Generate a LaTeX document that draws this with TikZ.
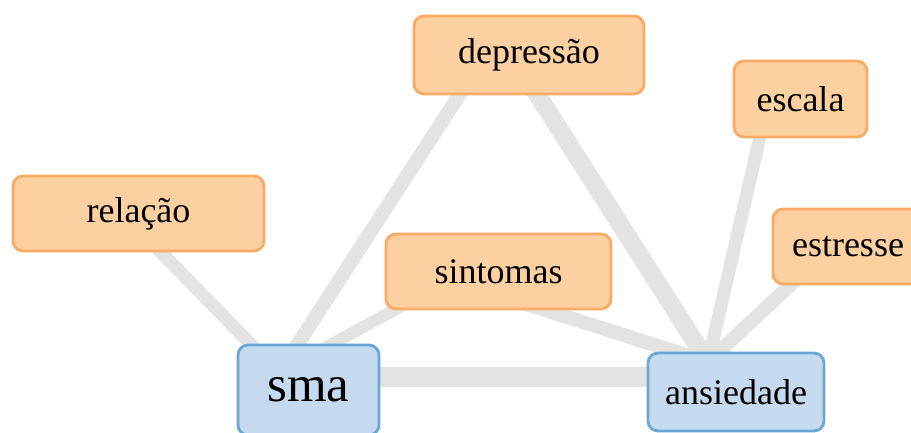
\documentclass[tikz,border=0pt]{standalone}
\usepackage{fontspec}
\setmainfont{Liberation Serif}
\usetikzlibrary{calc}
\pgfdeclarelayer{bg}
\pgfsetlayers{bg,main}
\definecolor{ofill}{RGB}{252,208,160}
\definecolor{odraw}{RGB}{250,170,100}
\definecolor{bfill}{RGB}{197,217,239}
\definecolor{bdraw}{RGB}{105,168,212}
\definecolor{edgegray}{RGB}{227,227,227}
\tikzset{
  obox/.style={draw=odraw, fill=ofill, line width=2.8pt, rounded corners=10pt, inner sep=0pt, font=\fontsize{36}{40}\selectfont},
  bbox/.style={draw=bdraw, fill=bfill, line width=2.8pt, rounded corners=10pt, inner sep=0pt, font=\fontsize{36}{40}\selectfont},
  link/.style={draw=edgegray, line cap=butt},
}
\begin{document}
\begin{tikzpicture}[x=1pt, y=-1pt]
\useasboundingbox (0,0) rectangle (911,433);
\clip (0,0) rectangle (911,433);
\node[obox, minimum width=230pt, minimum height=78pt] (dep) at (529,55) {depressão};
\node[obox, minimum width=133pt, minimum height=76pt] (esc) at (800.5,99) {escala};
\node[obox, minimum width=251pt, minimum height=75pt] (rel) at (138.5,213.5) {relação};
\node[obox, minimum width=150pt, minimum height=75pt] (est) at (848,246.5) {estresse};
\node[obox, minimum width=225pt, minimum height=75pt] (sin) at (498.5,271.5) {sintomas};
\node[bbox, minimum width=141pt, minimum height=90pt, font=\fontsize{51}{56}\selectfont] (sma) at (308.5,390) {sma};
\node[bbox, minimum width=176pt, minimum height=78pt] (ans) at (736,392) {ansiedade};
\begin{pgfonlayer}{bg}
\draw[link, line width=13pt] ($(rel)+(10.5,26.5)$) -- ($(sma)+(-29.5,-17)$);
\draw[link, line width=14pt] ($(dep)+(-60,25)$) -- ($(sma)+(-29.5,-17)$);
\draw[link, line width=12pt] ($(sin)+(-78.5,24.5)$) -- ($(sma)+(-29.5,-17)$);
\draw[link, line width=20pt] ($(sma)+(-8.5,-13)$) -- ($(ans)+(-36,-15)$);
\draw[link, line width=18pt] ($(dep)+(-1,25)$) -- ($(ans)+(-28,-30)$);
\draw[link, line width=14pt] ($(sin)+(21.5,30.5)$) -- ($(ans)+(-28,-30)$);
\draw[link, line width=13pt] ($(esc)+(-38.5,29)$) -- ($(ans)+(-28,-30)$);
\draw[link, line width=14pt] ($(est)+(-48,29.5)$) -- ($(ans)+(-28,-30)$);
\end{pgfonlayer}
\end{tikzpicture}
\end{document}
